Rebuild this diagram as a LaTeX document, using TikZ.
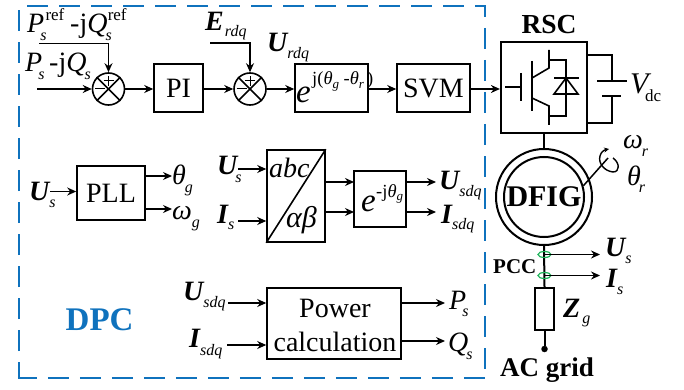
\documentclass[tikz,border=0pt]{standalone}
\usepackage{fontspec}
\setmainfont{Liberation Serif}
\usetikzlibrary{positioning, arrows.meta, calc, shapes.geometric}
\definecolor{dpcblue}{RGB}{15,114,189}
\definecolor{pccgreen}{RGB}{30,180,90}
\newcommand{\vb}[1]{{\bfseries\itshape #1}}
\newcommand{\vi}[1]{{\itshape #1}}
\newcommand{\lo}[2][7pt]{\raisebox{-#1}{\fontsize{16}{16}\selectfont\itshape #2}}
\newcommand{\hi}[1]{\raisebox{12pt}{\fontsize{17}{17}\selectfont #1}}
\newcommand{\ex}[1]{\raisebox{-3.5pt}{\fontsize{13}{13}\selectfont\itshape #1}}
\tikzset{
    block/.style={draw, line width=1.6pt, minimum height=48pt, font=\fontsize{28}{30}\selectfont, inner sep=0pt},
    sig/.style={line width=1.3pt, -{Stealth[length=9pt,width=8pt]}},
    lab/.style={font=\fontsize{28}{30}\selectfont, inner sep=0pt, anchor=base west},
    sumc/.style={draw, circle, line width=1.6pt, minimum size=32pt, inner sep=0pt},
    pow/.style={line width=2pt},
    dpcline/.style={dpcblue, line width=2.5pt, dash pattern=on 21pt off 11pt},
    pccring/.style={draw=pccgreen, ellipse, line width=1.2pt, minimum width=13pt, minimum height=6pt, inner sep=0pt},
}
\begin{document}
\begin{tikzpicture}[x=1pt,y=-1pt]
    \useasboundingbox (0,0) rectangle (684,390);
    % dashed frame
    \draw[dpcline] (27,6) -- (485,6) -- (485,378);
    \draw[dpcline, dash phase=5pt] (19,378) -- (19,6);
    \draw[dpcline, dash phase=2pt] (17.75,378) -- (485,378);
    \node[lab, text=dpcblue, font=\fontsize{33}{34}\selectfont\bfseries] (dpc) at (65.5,330) {DPC};

    % top row
    \node[sumc] (sumA) at (108.5,89) {};
    \node[sumc] (sumB) at (250,89) {};
    \node[block, minimum width=49pt] (pi) at (178.5,88) {PI};
    \node[block, minimum width=73pt] (park) at (331.5,88) {};
    \node[lab, font=\fontsize{33}{33}\selectfont\itshape] (parke) at (296,103) {e};
    \node[lab, font=\fontsize{18.5}{19}\selectfont] (parkx) at (312,85) {j(\vi{θ}\ex{g} -\vi{θ}\ex{r}\,)};
    \node[block, minimum width=73pt] (svm) at (433.5,88) {SVM};
    \foreach \s in {sumA,sumB} {
        \draw[line width=1.6pt] (\s.45) -- (\s.225);
        \draw[line width=1.6pt] (\s.135) -- (\s.315);
        \draw[line width=1pt] ($(\s.center)+(-13.5,0)$) -- ($(\s.center)+(-3.5,0)$);
        \draw[line width=1pt] ($(\s.center)+(-5,-8)$) -- ($(\s.center)+(5,-8)$);
        \draw[line width=1pt] ($(\s.center)+(0,-13)$) -- ($(\s.center)+(0,-3)$);
    }
    \node[lab] (pref) at (27,33) {\vi{P}\lo[8pt]{\kern-4pt s}\kern-1pt\hi{ref}};
    \node[lab] (qref) at (70,33) {-j\vi{Q}\lo[8pt]{\kern-2pt s}\kern-4pt\hi{ref}};
    \node[lab] (ps) at (25,72) {\vi{P}\lo[8pt]{\kern-4pt s}};
    \node[lab] (qs) at (49,72) {-j\vi{Q}\lo[8pt]{\kern-2pt s}};
    \node[lab] (erdq) at (205,31) {\vb{E}\lo[6pt]{\kern1pt rdq}};
    \node[lab] (urdq) at (267,52) {\vb{U}\lo[7pt]{rdq}};
    \coordinate (prefin) at (39,43.5);
    \coordinate (psin) at (37,89);
    \coordinate (erdqin) at (210,43);
    \draw[sig] (prefin) -| (sumA.north);
    \draw[sig] (psin) -- (sumA.west);
    \draw[sig] (sumA.east) -- (sumA.east -| pi.west);
    \draw[sig] (pi.east |- sumB.west) -- (sumB.west);
    \draw[sig] (erdqin) -| (sumB.north);
    \draw[sig] (sumB.east) -- (sumB.east -| park.west);
    \draw[sig] (park.east |- sumB.east) -- (svm.west |- sumB.east);

    % converter
    \node[draw, line width=2.2pt, minimum width=86pt, minimum height=91pt, inner sep=0pt] (rsc) at (544,87.5) {};
    \node[lab, anchor=base, font=\fontsize{27.5}{28}\selectfont\bfseries] (rsct) at (549,34) {RSC};
    \draw[sig] (svm.east |- sumB.east) -- (rsc.west |- sumB.east);
    \draw[line width=1.6pt] (505,87) -- (521,87) (521,73) -- (521,101);
    \draw[line width=1.6pt] (532,61) -- (532,111);
    \draw[line width=1.6pt] (532,78) -- (549,68) -- (549,50);
    \draw[line width=1.6pt] (532,98) -- (549,106) -- (549,125);
    \draw[line width=1.6pt] (549,60) -- (566,60) -- (566,116) -- (549,116);
    \draw[line width=1.6pt] (554,78) -- (579,78);
    \draw[line width=1.6pt] (554,94) -- (578,94) -- (566,78) -- cycle;
    % dc link
    \coordinate (dctop) at (587,55);
    \coordinate (dcbot) at (587,123);
    \draw[pow] (dctop) -- (612,55) -- (612,81);
    \draw[pow] (dcbot) -- (612,123) -- (612,96);
    \draw[line width=2pt] (597,81) -- (627,81);
    \draw[line width=2pt] (602,96) -- (621,96);
    \node[lab, font=\fontsize{30}{30}\selectfont\itshape] (vdc) at (630,94) {V};
    \node[lab, font=\fontsize{17}{17}\selectfont] (vdcs) at (645,102) {dc};

    % generator
    \node[draw, circle, line width=2pt, minimum size=96pt, inner sep=0pt] (genout) at (544,197) {};
    \node[draw, circle, line width=2pt, minimum size=80pt, inner sep=0pt, font=\fontsize{30}{30}\selectfont\bfseries] (gen) at (544,197) {DFIG};
    \draw[pow] (rsc.south) -- (genout.north);
    \coordinate (shaft) at (608,158);
    \draw[line width=1.5pt] (gen.16) -- (shaft);
    \draw[line width=1.4pt, -{Stealth[length=5pt,width=5pt]}] (613,158) .. controls (620,163) and (620,172) .. (613,172) .. controls (604,171) and (598,163) .. (600,156) .. controls (601,152) and (604,150) .. (609,149);
    \node[lab] (wr) at (623,149) {\vi{ω}\lo[8pt]{\kern-1pt r}};
    \node[lab] (tr) at (627,185) {\vi{θ}\lo[7pt]{\kern-2pt r}};

    % grid side
    \node[draw, line width=1.8pt, minimum width=19pt, minimum height=42pt, inner sep=0pt] (zg) at (544.5,309) {};
    \node[circle, fill=black, minimum size=6.5pt, inner sep=0pt] (grid) at (544.5,349) {};
    \draw[pow] (genout.south) -- (zg.north);
    \draw[pow] (zg.south) -- (grid);
    \node[pccring] (pccu) at (544.5,254.5) {};
    \node[pccring] (pcci) at (544.5,275.5) {};
    \node[lab] (us) at (605,256) {\vb{U}\lo{s}};
    \node[lab] (is) at (606,287) {\vb{I}\lo{s}};
    \coordinate (usout) at (600,254.5);
    \coordinate (isout) at (600,275.5);
    \draw[sig] (pccu.center) -- (usout);
    \draw[sig] (pcci.center) -- (isout);
    \node[lab, font=\fontsize{21}{21}\selectfont\bfseries] (pcc) at (493,273) {PCC};
    \node[lab] (zt) at (563,317) {\vb{Z}\lo[6pt]{\kern2pt g}};
    \node[lab, font=\fontsize{27}{27}\selectfont\bfseries] (ac) at (500,376) {AC grid};

    % middle row
    \node[block, minimum width=68pt, minimum height=54pt] (pll) at (111,193) {PLL};
    \node[lab] (usa) at (29,200) {\vb{U}\lo{s}};
    \coordinate (usain) at (50,191.5);
    \draw[sig] (usain) -- (pll.west |- usain);
    \coordinate (thout) at (172,176);
    \coordinate (wgout) at (172,209);
    \draw[sig] (pll.east |- thout) -- (thout);
    \draw[sig] (pll.east |- wgout) -- (wgout);
    \node[lab] (thg) at (172,184) {\vi{θ}\lo[8pt]{\kern-1pt g}};
    \node[lab] (wg) at (172,219) {\vi{ω}\lo[8pt]{g}};

    \node[block, minimum width=58pt, minimum height=92pt] (abc) at (296,196) {};
    \draw[line width=1.6pt] (abc.south west) -- (abc.north east);
    \node[lab, font=\fontsize{28}{28}\selectfont\itshape] (abct) at (269,177) {abc};
    \node[lab, font=\fontsize{30}{30}\selectfont\itshape] (abt) at (286,227) {αβ};
    \node[lab] (usb) at (217,175) {\vb{U}\lo{\kern-2pt s}};
    \node[lab] (isb) at (217,223) {\vb{I}\lo[6pt]{s}};
    \coordinate (usbin) at (238,169);
    \coordinate (isbin) at (238,221);
    \draw[sig] (usbin) -- (abc.west |- usbin);
    \draw[sig] (isbin) -- (abc.west |- isbin);
    \node[block, minimum width=52pt, minimum height=56pt] (rot) at (380,199) {};
    \node[lab, font=\fontsize{33}{33}\selectfont\itshape] (rote) at (361,211) {e};
    \node[lab, font=\fontsize{18.5}{19}\selectfont] (rotx) at (376,197) {-j\vi{θ}\ex{g}};
    \coordinate (roti) at (354,182);
    \coordinate (rotj) at (354,212);
    \draw[sig] (abc.east |- roti) -- (roti);
    \draw[sig] (abc.east |- rotj) -- (rotj);
    \coordinate (usdq) at (436,182);
    \coordinate (isdq) at (436,212);
    \draw[sig] (rot.east |- usdq) -- (usdq);
    \draw[sig] (rot.east |- isdq) -- (isdq);
    \node[lab] (usdqt) at (439,189) {\vb{U}\lo{sdq}};
    \node[lab] (isdqt) at (441,223) {\vb{I}\lo[6pt]{sdq}};

    % bottom row
    \node[block, minimum width=134pt, minimum height=71pt, align=center] (power) at (334,323.5) {};
    \node[lab, anchor=base] (powa) at (335,317) {Power};
    \node[lab, anchor=base] (powb) at (335,351) {calculation};
    \node[lab] (ubot) at (183,300) {\vb{U}\lo{sdq}};
    \node[lab] (ibot) at (189,347) {\vb{I}\lo[8pt]{sdq}};
    \coordinate (ubotin) at (228,303);
    \coordinate (ibotin) at (227,345);
    \draw[sig] (ubotin) -- (power.west |- ubotin);
    \draw[sig] (ibotin) -- (power.west |- ibotin);
    \coordinate (pout) at (445,303);
    \coordinate (qout) at (445,341);
    \draw[sig] (power.east |- pout) -- (pout);
    \draw[sig] (power.east |- qout) -- (qout);
    \node[lab] (pst) at (449,309) {\vi{P}\lo{\kern-4pt s}};
    \node[lab] (qst) at (448,351) {\vi{Q}\lo[8pt]{\kern-2pt s}};
\end{tikzpicture}
\end{document}
